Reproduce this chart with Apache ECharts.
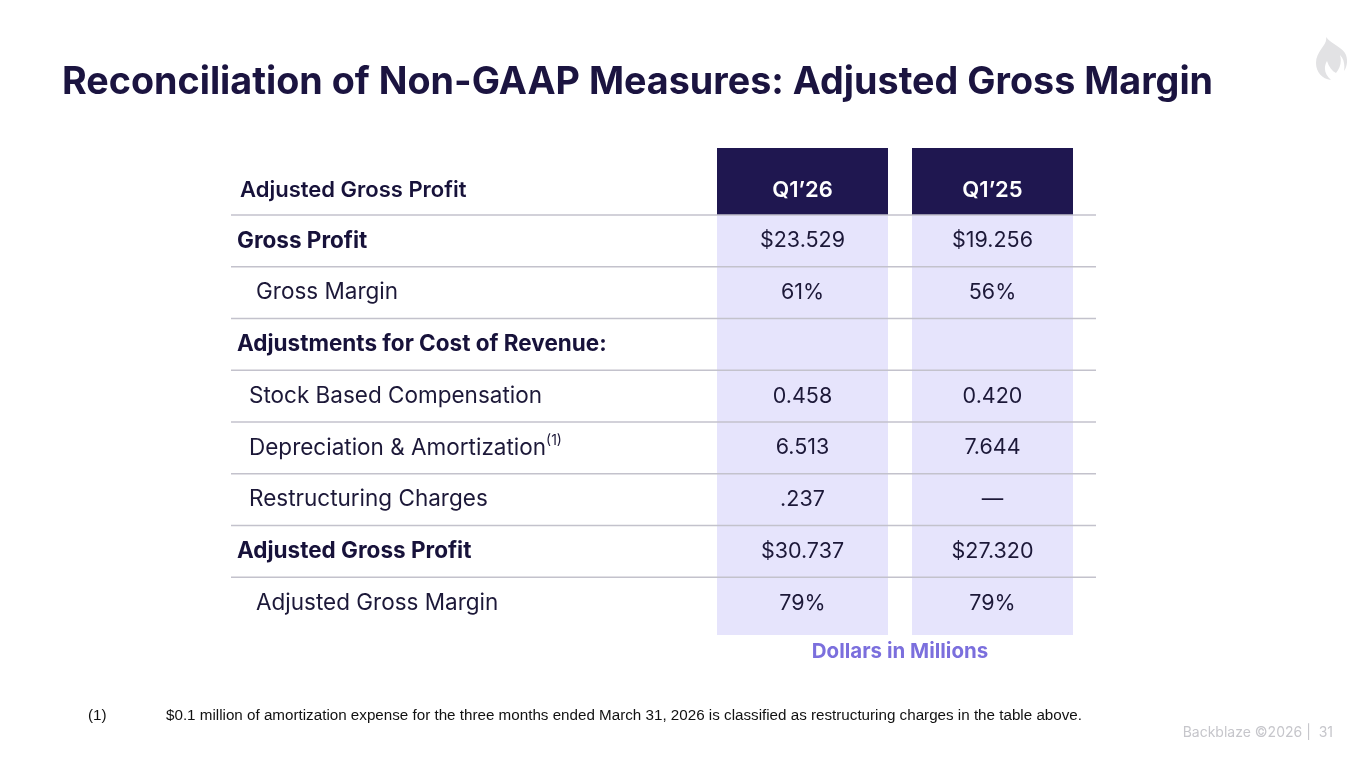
<!DOCTYPE html>
<html>
<head>
<meta charset="utf-8">
<script src="https://cdn.jsdelivr.net/npm/echarts@6/dist/echarts.min.js"></script>
<style>
  html, body { margin: 0; padding: 0; background: #ffffff; }
  #chart { width: 1365px; height: 768px; }
</style>
</head>
<body>
<div id="chart"></div>
<script>
// Table content
const tableTitle = 'Adjusted Gross Profit';
const columnNames = ['Q1\u201926', 'Q1\u201925'];
const rowLabels = [
    'Gross Profit',
    'Gross Margin',
    'Adjustments for Cost of Revenue:',
    'Stock Based Compensation',
    'Depreciation & Amortization',
    'Restructuring Charges',
    'Adjusted Gross Profit',
    'Adjusted Gross Margin'
];
const rowNotes = ['', '', '', '', '(1)', '', '', ''];
const rowBold = [true, false, true, false, false, false, true, false];
const rowLevel = [0, 2, 0, 1, 1, 1, 0, 2];
const valuesQ126 = ['$23.529', '61%', '', '0.458', '6.513', '.237', '$30.737', '79%'];
const valuesQ125 = ['$19.256', '56%', '', '0.420', '7.644', '\u2014', '$27.320', '79%'];
const unitNote = 'Dollars in Millions';
const footnote = '$0.1 million of amortization expense for the three months ended March 31, 2026 is classified as restructuring charges in the table above.';

const NAVY = '#1f1750';
const LAVENDER = '#e6e4fc';
const LINE = '#c3c2cc';
const FONT = 'Inter, "DejaVu Sans", sans-serif';
const ARIAL = '"Liberation Sans", Arial, sans-serif';

// column layout (pixels, relative to grid left)
const GRID_LEFT = 231;
const cols = [
    { x0: 717 - GRID_LEFT, x1: 888 - GRID_LEFT },
    { x0: 912 - GRID_LEFT, x1: 1073 - GRID_LEFT }
];
const indentPx = [6, 18, 25];
const TAIL_PAD = 6; // extra shading under the last row

const chart = echarts.init(document.getElementById('chart'));

function renderRow(params, api) {
    const i = api.value(0);
    const cs = params.coordSys;
    const center = api.coord([0, i]);
    const band = api.size([0, 1])[1];
    const top = center[1] - band / 2;
    const last = i === rowLabels.length - 1;
    const children = [];
    const vals = [valuesQ126[i], valuesQ125[i]];
    cols.forEach(c => {
        children.push({
            type: 'rect',
            shape: { x: cs.x + c.x0, y: top, width: c.x1 - c.x0, height: band + (last ? TAIL_PAD : 0.5) },
            style: { fill: LAVENDER }
        });
    });
    children.push({
        type: 'line',
        shape: { x1: cs.x, y1: top, x2: cs.x + cs.width, y2: top },
        style: { stroke: LINE, lineWidth: 1.5 }
    });
    const label = rowNotes[i] ? rowLabels[i] + '{sup|' + rowNotes[i] + '}' : rowLabels[i];
    children.push({
        type: 'text',
        style: {
            text: label,
            x: cs.x + indentPx[rowLevel[i]],
            y: center[1],
            verticalAlign: 'middle',
            align: 'left',
            fill: rowBold[i] ? '#17123a' : '#1c1838',
            font: (rowBold[i] ? '700 ' : '400 ') + '22.5px ' + FONT,
            rich: {
                sup: { font: '400 14px ' + FONT, fill: '#1c1838', verticalAlign: 'top', padding: [0, 0, 14, 0] }
            }
        }
    });
    cols.forEach((c, k) => {
        if (!vals[k]) return;
        children.push({
            type: 'text',
            style: {
                text: vals[k],
                x: cs.x + (c.x0 + c.x1) / 2,
                y: center[1],
                align: 'center',
                verticalAlign: 'middle',
                fill: '#1c1838',
                font: '400 21.5px ' + FONT
            }
        });
    });
    return { type: 'group', children: children };
}

const flameSvg = '<svg xmlns="http://www.w3.org/2000/svg" width="34" height="46" viewBox="0 0 34 46">' +
    '<path fill="#e2e2e4" d="M13,1 C15,9 3,15 3,27 C3,36 9,43 18,44 C12,39 10,32 14,25 C16,31 19,35 23,37 C27,32 29,26 27,19 C31,23 32,29 31,35 C34,31 35,25 33,19 C30,11 19,9 13,1 Z"/>' +
    '</svg>';

chart.setOption({
    animation: false,
    grid: { left: GRID_LEFT, right: 1365 - 1096, top: 215, bottom: 768 - 629 },
    xAxis: { type: 'value', min: 0, max: 1, show: false },
    yAxis: {
        type: 'category',
        data: rowLabels,
        inverse: true,
        show: false
    },
    series: [{
        type: 'custom',
        renderItem: renderRow,
        encode: { x: -1, y: 0 },
        data: rowLabels.map((d, i) => [i])
    }],
    graphic: [
        {
            type: 'text',
            x: 62, y: 83,
            style: {
                text: 'Reconciliation of Non-GAAP Measures: Adjusted Gross Margin',
                verticalAlign: 'middle',
                font: '700 37.7px ' + FONT,
                fill: '#1b1440'
            }
        },
        {
            type: 'image',
            x: 1313, y: 36,
            style: { image: 'data:image/svg+xml;charset=utf-8,' + encodeURIComponent(flameSvg), width: 34, height: 46 }
        },
        {
            type: 'text',
            x: 240, y: 190,
            style: { text: tableTitle, verticalAlign: 'middle', font: '600 22px ' + FONT, fill: '#17123a' }
        },
        {
            type: 'rect',
            shape: { x: 717, y: 148, width: 171, height: 67 },
            style: { fill: NAVY }
        },
        {
            type: 'rect',
            shape: { x: 912, y: 148, width: 161, height: 67 },
            style: { fill: NAVY }
        },
        {
            type: 'text',
            x: 802.5, y: 190,
            style: { text: columnNames[0], align: 'center', verticalAlign: 'middle', font: '600 22px ' + FONT, fill: '#ffffff' }
        },
        {
            type: 'text',
            x: 992.5, y: 190,
            style: { text: columnNames[1], align: 'center', verticalAlign: 'middle', font: '600 22px ' + FONT, fill: '#ffffff' }
        },
        {
            type: 'text',
            x: 900, y: 652,
            style: { text: unitNote, align: 'center', verticalAlign: 'middle', font: '700 20.5px ' + FONT, fill: '#7b6fdd' }
        },
        {
            type: 'text',
            x: 88, y: 716,
            style: { text: '(1)', verticalAlign: 'middle', font: '15.2px ' + ARIAL, fill: '#111111' }
        },
        {
            type: 'text',
            x: 166, y: 716,
            style: { text: footnote, verticalAlign: 'middle', font: '15.2px ' + ARIAL, fill: '#111111' }
        },
        {
            type: 'text',
            x: 1333, y: 733,
            style: { text: 'Backblaze \u00a92026 |  31', align: 'right', verticalAlign: 'middle', font: '14px ' + FONT, fill: '#c6c6cb' }
        }
    ]
});
</script>
</body>
</html>
